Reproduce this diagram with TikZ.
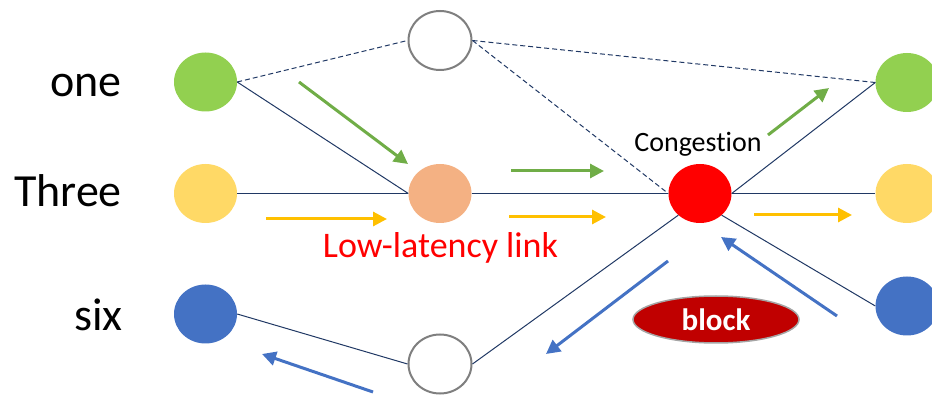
\documentclass[tikz,border=0pt]{standalone}
\usepackage{fontspec}
\setmainfont{Carlito}[Ligatures={NoCommon,NoRare,NoContextual}]
\usetikzlibrary{shapes.geometric,arrows.meta}
\definecolor{gLt}{HTML}{92D050}
\definecolor{yLt}{HTML}{FFD966}
\definecolor{bLt}{HTML}{4472C4}
\definecolor{orng}{HTML}{F4B183}
\definecolor{navy}{HTML}{203864}
\definecolor{agreen}{HTML}{70AD47}
\definecolor{ayellow}{HTML}{FFC000}
\definecolor{dred}{HTML}{C00000}
\definecolor{ringgray}{HTML}{7F7F7F}
\begin{document}
\begin{tikzpicture}[x=1pt,y=-1pt,
  dot/.style={ellipse, minimum width=63pt, minimum height=59pt, inner sep=0pt},
  hollow/.style={dot, draw=ringgray, line width=2pt, fill=white},
  link/.style={draw=navy, line width=1pt},
  dlink/.style={link, dash pattern=on 5pt off 3pt},
  flow/.style={line width=3pt, -{Triangle[length=14pt,width=14pt]}},
  lbl/.style={font=\fontsize{46}{46}\selectfont, anchor=base east, inner sep=0pt}]
\useasboundingbox (0,0) rectangle (932,395);
\clip (0,0) rectangle (932,395);
% labels
\node[lbl] (tone) at (122,97) {one};
\node[lbl] (tthree) at (122,207) {Three};
\node[lbl] (tsix) at (123,331) {six};
% nodes
\node[dot, fill=gLt] (gl) at (205.5,82) {};
\node[dot, fill=yLt] (yl) at (205.5,193.5) {};
\node[dot, fill=bLt] (bl) at (205.5,314) {};
\node[hollow] (wt) at (440,40.5) {};
\node[dot, fill=orng] (org) at (440,193.5) {};
\node[hollow] (wb) at (440,364) {};
\node[dot, fill=red] (rd) at (700,193.5) {};
\node[dot, fill=gLt] (gr) at (907,82.5) {};
\node[dot, fill=yLt] (yr) at (907,193.5) {};
\node[dot, fill=bLt] (br) at (907,306) {};
% links
\draw[dlink] (gl.east) -- (wt.west);
\draw[link] (gl.east) -- (org.west);
\draw[link] (yl.east) -- (org.west);
\draw[link] (org.east) -- (rd.west);
\draw[dlink] (wt.east) -- (rd.west);
\draw[dlink] (wt.east) -- (gr.west);
\draw[link] (rd.east) -- (gr.west);
\draw[link] (rd.east) -- (yr.west);
\draw[link] (rd.-45) -- (br.west);
\draw[link] (rd.-135) -- (wb.east);
\draw[link] (wb.west) -- (bl.east);
% texts
\node[font=\fontsize{28}{28}\selectfont, anchor=base, inner sep=0pt] (cong) at (698,152) {Congestion};
\node[font=\fontsize{36}{36}\selectfont, text=red, anchor=base, inner sep=0pt] (lll) at (440.5,258) {Low-latency link};
\node[ellipse, fill=dred, draw=ringgray!70, line width=1.5pt, minimum width=166pt, minimum height=47pt, inner sep=0pt,
  font=\fontsize{31}{31}\selectfont\bfseries, text=white] (blk) at (716,319.5) {block};
% flow arrows
\coordinate (g1a) at (299,82); \coordinate (g1b) at (408,164);
\coordinate (g2a) at (511,171); \coordinate (g2b) at (604,171);
\coordinate (g3a) at (768,135); \coordinate (g3b) at (829,88);
\coordinate (y1a) at (266,219); \coordinate (y1b) at (387,219);
\coordinate (y2a) at (509,217); \coordinate (y2b) at (606,217);
\coordinate (y3a) at (754,215); \coordinate (y3b) at (852,215);
\coordinate (b1a) at (373,392); \coordinate (b1b) at (262,354);
\coordinate (b2a) at (668,261); \coordinate (b2b) at (546,354);
\coordinate (b3a) at (837,316); \coordinate (b3b) at (721,237);
\draw[flow, draw=agreen, fill=agreen] (g1a) -- (g1b);
\draw[flow, draw=agreen, fill=agreen] (g2a) -- (g2b);
\draw[flow, draw=agreen, fill=agreen] (g3a) -- (g3b);
\draw[flow, draw=ayellow, fill=ayellow] (y1a) -- (y1b);
\draw[flow, draw=ayellow, fill=ayellow] (y2a) -- (y2b);
\draw[flow, draw=ayellow, fill=ayellow] (y3a) -- (y3b);
\draw[flow, draw=bLt, fill=bLt] (b1a) -- (b1b);
\draw[flow, draw=bLt, fill=bLt] (b2a) -- (b2b);
\draw[flow, draw=bLt, fill=bLt] (b3a) -- (b3b);
\end{tikzpicture}
\end{document}
